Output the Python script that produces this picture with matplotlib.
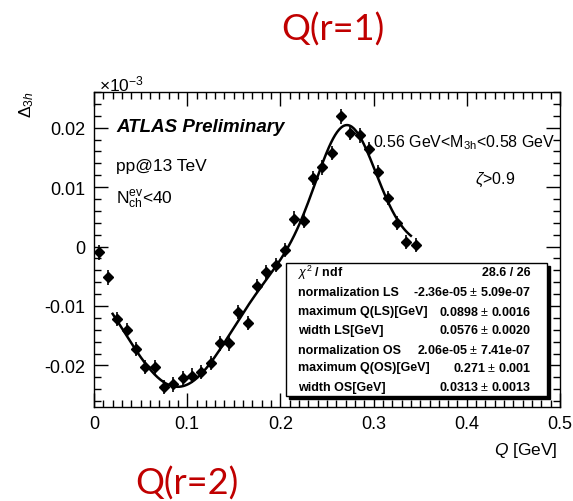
import numpy as np
import matplotlib
matplotlib.use("Agg")
import matplotlib.pyplot as plt
from matplotlib.patches import Rectangle

# data points (Delta_3h in units of 1e-3)
q_vals = [0.005, 0.015, 0.025, 0.035, 0.045, 0.055, 0.065, 0.075, 0.085, 0.095,
          0.105, 0.115, 0.125, 0.135, 0.145, 0.155, 0.165, 0.175, 0.185, 0.195,
          0.205, 0.215, 0.225, 0.235, 0.245, 0.255, 0.265, 0.275, 0.285, 0.295,
          0.305, 0.315, 0.325, 0.335, 0.345]
delta_vals = [-0.0010, -0.0052, -0.0122, -0.0141, -0.0173, -0.0203, -0.0203, -0.0236, -0.0232, -0.0221,
              -0.0217, -0.0211, -0.0196, -0.0163, -0.0163, -0.0110, -0.0129, -0.0066, -0.0043, -0.0031,
              -0.0006, 0.0047, 0.0043, 0.0115, 0.0133, 0.0157, 0.0219, 0.0191, 0.0187, 0.0164,
              0.0125, 0.0082, 0.0039, 0.0008, 0.0002]
delta_err = 0.0012

# fit parameters from the stats box (norm in units of 1e-3)
norm_ls, mu_ls, sig_ls = -0.0236, 0.0898, 0.0576
norm_os, mu_os, sig_os = 0.0206, 0.271, 0.0313
fit_range = (0.02, 0.34)

stat_names = ["$\\chi^2$ / ndf", "normalization LS", "maximum Q(LS)[GeV]", "width LS[GeV]",
              "normalization OS", "maximum Q(OS)[GeV]", "width OS[GeV]"]
stat_values = ["28.6 / 26", "-2.36e-05 $\\pm$ 5.09e-07", "0.0898 $\\pm$ 0.0016",
               "0.0576 $\\pm$ 0.0020", "2.06e-05 $\\pm$ 7.41e-07", "0.271 $\\pm$ 0.001",
               "0.0313 $\\pm$ 0.0013"]

plt.rcParams['font.family'] = ['Liberation Sans', 'DejaVu Sans']
plt.rcParams['mathtext.fontset'] = 'custom'
plt.rcParams['mathtext.rm'] = 'Liberation Sans'
plt.rcParams['mathtext.it'] = 'Liberation Sans:italic'
plt.rcParams['mathtext.bf'] = 'Liberation Sans:bold'

fig = plt.figure(figsize=(5.73, 5.02), dpi=100)
ax = fig.add_axes([94 / 573, 1 - 408 / 502, (560 - 94) / 573, (408 - 93) / 502])


def px(x, y):
    # pixel position (from top-left) -> figure fraction
    return (x / 573, 1 - y / 502)


ax.errorbar(q_vals, delta_vals, yerr=delta_err, xerr=0.004, fmt='D', ms=5, color='black',
            ecolor='black', elinewidth=1.2, capsize=0)

qq = np.linspace(fit_range[0], fit_range[1], 300)
fit = (norm_ls * np.exp(-(qq - mu_ls) ** 2 / (2 * sig_ls ** 2))
       + norm_os * np.exp(-(qq - mu_os) ** 2 / (2 * sig_os ** 2)))
ax.plot(qq, fit, color='black', lw=1.8)

ax.set_xlim(0, 0.5)
ax.set_ylim(-0.027, 0.026)
ax.set_xticks([0, 0.1, 0.2, 0.3, 0.4, 0.5])
ax.set_xticklabels(['0', '0.1', '0.2', '0.3', '0.4', '0.5'])
ax.set_yticks([-0.02, -0.01, 0, 0.01, 0.02])
ax.set_yticklabels(['-0.02', '-0.01', '0', '0.01', '0.02'])
ax.set_xticks(np.arange(0, 0.5001, 0.01), minor=True)
ax.set_yticks(np.arange(-0.026, 0.0261, 0.002), minor=True)
ax.tick_params(which='both', direction='in', top=True, right=True, labelsize=13, width=1)
ax.tick_params(which='major', length=10, pad=6)
ax.tick_params(which='minor', length=5)
for s in ax.spines.values():
    s.set_linewidth(1)

fig.text(*px(99, 84), r'$\times$10$^{-3}$', fontsize=12.5, ha='left', va='center')
fig.text(*px(27, 105), r'$\Delta_{3h}$', fontsize=12.5, rotation=90, ha='center', va='center')
fig.text(*px(558, 451), r'$Q$ [GeV]', fontsize=12.5, ha='right', va='center')

fig.text(*px(116, 128), 'ATLAS Preliminary', fontsize=13.5, fontweight='bold', fontstyle='italic',
         ha='left', va='center')
fig.text(*px(116, 167), 'pp@13 TeV', fontsize=12.5, ha='left', va='center')
fig.text(*px(116, 200), r'N$_{\rm ch}^{\rm ev}$<40', fontsize=12.5, ha='left', va='center')
fig.text(*px(555, 143), r'0.56 GeV<M$_{\rm 3h}$<0.58 GeV', fontsize=11.5, ha='right', va='center')
fig.text(*px(475, 180), r'$\zeta$>0.9', fontsize=11.5, ha='left', va='center')

# stats box with shadow
box_l, box_t, box_r, box_b = 286, 264, 547, 397
fig.patches.append(Rectangle(px(box_l + 3, box_b + 3), (box_r - box_l) / 573, (box_b - box_t) / 502,
                             transform=fig.transFigure, facecolor='black', edgecolor='black', zorder=5))
fig.patches.append(Rectangle(px(box_l, box_b), (box_r - box_l) / 573, (box_b - box_t) / 502,
                             transform=fig.transFigure, facecolor='white', edgecolor='black',
                             lw=1, zorder=6))
row_y = [273, 293, 312, 331, 351, 368, 388]
for name, val, y in zip(stat_names, stat_values, row_y):
    fig.text(*px(298, y), name, fontsize=9, fontweight='bold', ha='left', va='center', zorder=7)
    fig.text(*px(531, y), val, fontsize=9, fontweight='bold', ha='right', va='center', zorder=7)

red = '#c00000'
fig.text(*px(333, 30), 'Q(r=1)', fontsize=26, color=red, family='Lato', ha='center', va='center')
fig.text(*px(187, 484), 'Q(r=2)', fontsize=26, color=red, family='Lato', ha='center', va='center')

fig.savefig('out.png', dpi=100)
